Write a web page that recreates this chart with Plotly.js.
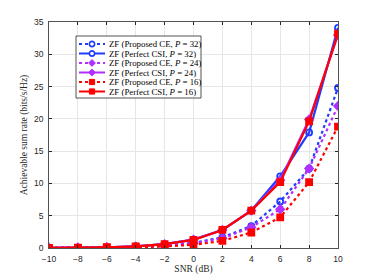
<!DOCTYPE html>
<html><head><meta charset="utf-8">
<script src="https://cdn.plot.ly/plotly-3.0.1.min.js"></script>
<style>body{margin:0;background:#fff}#c{width:374px;height:279px}</style>
</head><body><div id="c"></div>
<script>
const snr = [-10, -8, -6, -4, -2, 0, 2, 4, 6, 8, 10];
const ceP32 = [0.02, 0.04, 0.08, 0.15, 0.35, 0.8, 1.65, 3.4, 7.2, 12.3, 24.8];
const csiP32 = [0.03, 0.06, 0.12, 0.25, 0.6, 1.3, 2.8, 5.8, 11.1, 17.9, 34.1];
const ceP24 = [0.02, 0.04, 0.08, 0.15, 0.33, 0.75, 1.5, 3.2, 6.0, 12.3, 22.0];
const csiP24 = [0.03, 0.06, 0.12, 0.25, 0.6, 1.3, 2.8, 5.8, 10.5, 19.9, 33.0];
const ceP16 = [0.01, 0.03, 0.06, 0.12, 0.25, 0.5, 1.1, 2.4, 4.75, 10.2, 18.8];
const csiP16 = [0.03, 0.06, 0.12, 0.25, 0.6, 1.25, 2.8, 5.8, 10.2, 19.6, 33.2];
const names = ['ZF (Proposed CE, <i>P</i> = 32)','ZF (Perfect CSI, <i>P</i> = 32)',
  'ZF (Proposed CE, <i>P</i> = 24)','ZF (Perfect CSI, <i>P</i> = 24)',
  'ZF (Proposed CE, <i>P</i> = 16)','ZF (Perfect CSI, <i>P</i> = 16)'];
const series = [ceP32, csiP32, ceP24, csiP24, ceP16, csiP16];

const blue='#1f3cff', purple='#b030ff', red='#ff0000';
const colors = [blue, blue, purple, purple, red, red];
const dashes = ['dot','solid','dot','solid','dot','solid'];
const symbols = ['circle','circle','diamond','diamond','square','square'];
const filled = [false,false,true,true,true,true];

const data = series.map((y,i)=>({x: snr, y: y, name: names[i], type:'scatter', mode:'lines+markers',
    showlegend:false,
    line:{color:colors[i], width:2.2, dash:dashes[i]},
    marker:{symbol:symbols[i], size:6, color: filled[i]?colors[i]:'rgba(0,0,0,0)', line:{color:colors[i], width:1.8}}}));

// custom compact legend (MATLAB-like), in paper coordinates
const L=49, R=338, T=22, B=248;
const xp = px => (px-L)/(R-L);
const yp = py => (B-py)/(B-T);
const shapes = [], annotations = [];
shapes.push({type:'rect', xref:'paper', yref:'paper', x0:xp(76), x1:xp(201), y0:yp(98), y1:yp(36),
  line:{color:'#262626', width:0.8}, fillcolor:'#fff', layer:'above'});
names.forEach((nm,i)=>{
  const cy = 44 + i*9.5, c = colors[i];
  shapes.push({type:'line', xref:'paper', yref:'paper', x0:xp(79), x1:xp(105), y0:yp(cy), y1:yp(cy),
    line:{color:c, width:2, dash:dashes[i]}, layer:'above'});
  const r = 2.6, cx = 92;
  const fill = filled[i]?c:'#fff';
  if (symbols[i]==='circle') {
    shapes.push({type:'circle', xref:'paper', yref:'paper', x0:xp(cx-r), x1:xp(cx+r), y0:yp(cy+r), y1:yp(cy-r),
      line:{color:c, width:1.6}, fillcolor:fill, layer:'above'});
  } else if (symbols[i]==='square') {
    shapes.push({type:'rect', xref:'paper', yref:'paper', x0:xp(cx-r), x1:xp(cx+r), y0:yp(cy+r), y1:yp(cy-r),
      line:{color:c, width:1}, fillcolor:fill, layer:'above'});
  } else {
    const d = 3.4;
    shapes.push({type:'path', xref:'paper', yref:'paper',
      path:`M ${xp(cx)} ${yp(cy-d)} L ${xp(cx+d)} ${yp(cy)} L ${xp(cx)} ${yp(cy+d)} L ${xp(cx-d)} ${yp(cy)} Z`,
      line:{color:c, width:1}, fillcolor:fill, layer:'above'});
  }
  annotations.push({xref:'paper', yref:'paper', x:xp(107), y:yp(cy), xanchor:'left', yanchor:'middle',
    text:nm, showarrow:false, font:{family:'Liberation Serif, serif', size:8.8, color:'#000'}});
});

const tickFont = {family:'Liberation Sans, Arial, sans-serif', size:8.5, color:'#262626'};
const ax = {showline:true, mirror:'ticks', linecolor:'#262626', linewidth:0.8,
  ticks:'inside', ticklen:3, tickcolor:'#262626', showgrid:true, gridcolor:'#e6e6e6',
  zeroline:false, tickfont:tickFont};
const layout = {
  width:374, height:279, margin:{l:L, r:374-R, t:T, b:279-B},
  paper_bgcolor:'#fff', plot_bgcolor:'#fff', showlegend:false,
  xaxis: Object.assign({}, ax, {range:[-10,10], tickvals:[-10,-8,-6,-4,-2,0,2,4,6,8,10],
    ticklabelstandoff:3,
    title:{text:'SNR (dB)', font:{family:'Liberation Serif, serif', size:9.5, color:'#262626'}, standoff:2}}),
  yaxis: Object.assign({}, ax, {range:[0,35], tickvals:[0,5,10,15,20,25,30,35],
    ticklabelstandoff:3,
    title:{text:'Achievable sum rate (bits/s/Hz)', font:{family:'Liberation Serif, serif', size:9.5, color:'#262626'}, standoff:4}}),
  shapes: shapes, annotations: annotations
};
Plotly.newPlot('c', data, layout, {displayModeBar:false, staticPlot:true});
</script></body></html>
